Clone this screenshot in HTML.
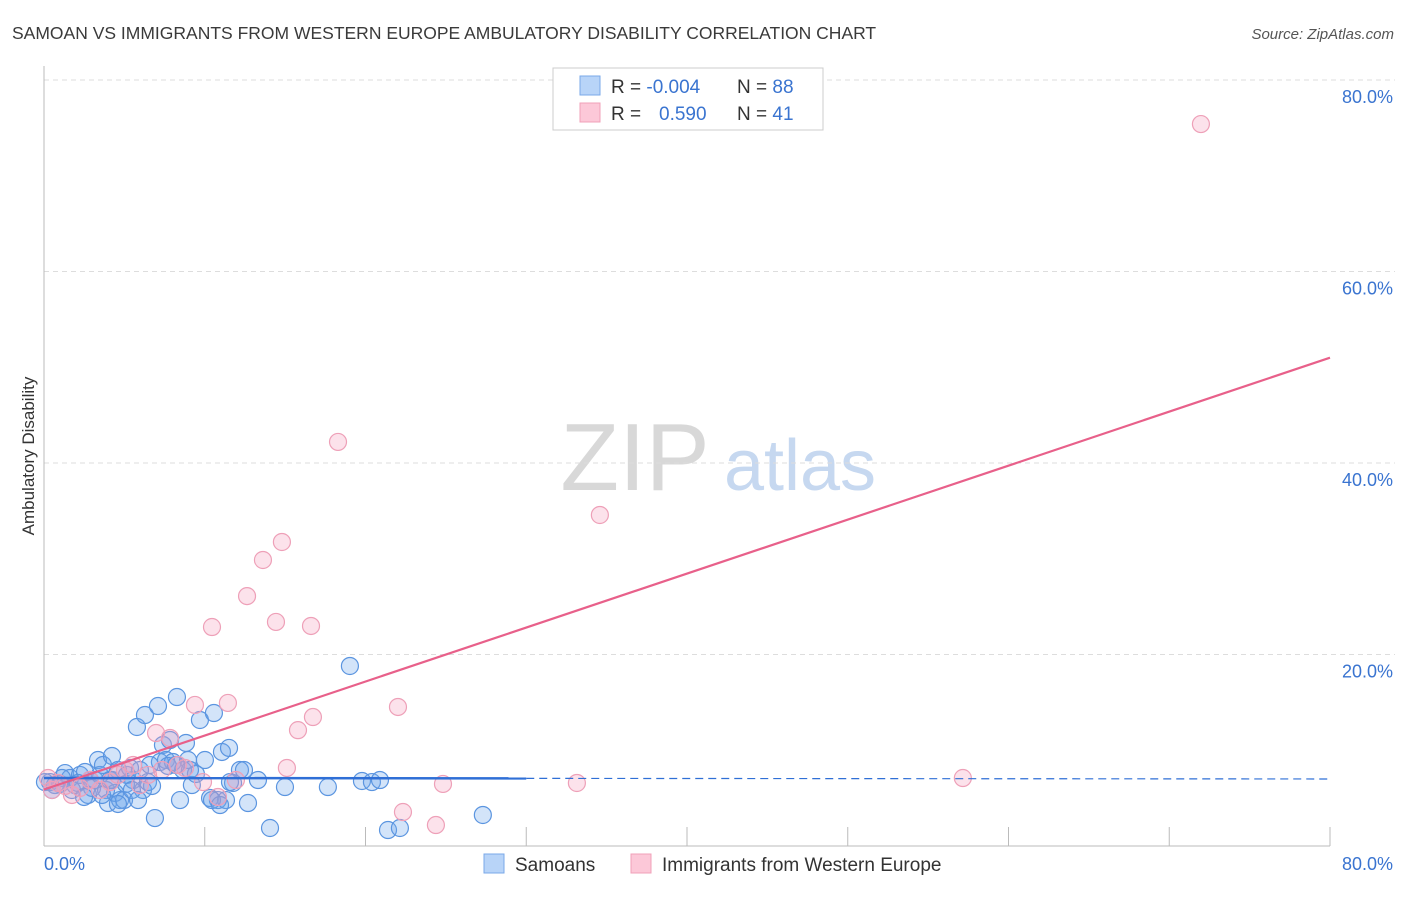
<!DOCTYPE html>
<html><head><meta charset="utf-8"><style>
body{margin:0;background:#fff;font-family:"Liberation Sans",sans-serif;}
svg text{font-family:"Liberation Sans",sans-serif;}
</style></head><body>
<svg id="chart" width="1406" height="892" xmlns="http://www.w3.org/2000/svg">
<text x="12" y="39" font-size="17.5" fill="#3a3a3a">SAMOAN VS IMMIGRANTS FROM WESTERN EUROPE AMBULATORY DISABILITY CORRELATION CHART</text>
<text x="1394" y="39" font-size="15" fill="#555" font-style="italic" text-anchor="end">Source: ZipAtlas.com</text>
<text transform="translate(34,456) rotate(-90)" font-size="17" fill="#333" text-anchor="middle">Ambulatory Disability</text>
<g>
<text x="635" y="490" font-size="96" fill="#d8d8d8" font-family="Liberation Serif" text-anchor="middle">ZIP</text>
<text x="800" y="490" font-size="72" fill="#c6d8f0" text-anchor="middle">atlas</text>
</g>
<g id="grid"></g><g id="axes"></g><g id="marks"></g><g id="lines"></g>
<g>
<rect x="553" y="68" width="270" height="62" fill="#fff" stroke="#ccc"/>
<rect x="580" y="76" width="20" height="19" fill="#b8d4f8" stroke="#7aa8e8"/>
<rect x="580" y="103" width="20" height="19" fill="#fcc8d8" stroke="#f0a0b8"/>
<text x="611" y="93" font-size="19" fill="#333">R = <tspan fill="#3a74d0">-0.004</tspan></text>
<text x="737" y="93" font-size="19" fill="#333">N = <tspan fill="#3a74d0">88</tspan></text>
<text x="611" y="120" font-size="19" fill="#333">R = </text>
<text x="659" y="120" font-size="19" fill="#3a74d0">0.590</text>
<text x="737" y="120" font-size="19" fill="#333">N = <tspan fill="#3a74d0">41</tspan></text>
</g>
<g>
<rect x="484" y="854" width="20" height="19" fill="#b8d4f8" stroke="#7aa8e8"/>
<text x="515" y="871" font-size="19" fill="#333">Samoans</text>
<rect x="631" y="854" width="20" height="19" fill="#fcc8d8" stroke="#f0a0b8"/>
<text x="662" y="871" font-size="19" fill="#333">Immigrants from Western Europe</text>
</g>
</svg>
<script>
const blueX=[0.37,0.68,1.0,1.31,1.62,1.93,2.24,2.55,2.74,2.99,3.17,3.36,3.48,3.67,3.86,3.98,4.1,4.23,4.42,4.6,4.73,4.98,5.16,5.35,5.54,5.78,5.97,6.16,6.28,6.47,6.72,6.9,7.09,7.21,7.4,7.59,7.84,8.02,8.27,8.46,8.65,8.83,8.96,9.2,9.45,9.7,10.01,10.33,10.57,10.82,11.07,11.32,11.51,11.76,12.19,12.69,13.31,14.06,14.99,17.66,19.03,19.78,20.4,21.4,22.14,27.3,0.06,0.5,1.12,1.74,2.11,2.49,2.86,3.61,4.23,4.6,5.1,5.47,5.85,6.59,7.71,8.21,9.08,10.45,11.57,12.44,10.95,20.9];
const blueY=[6.68,6.37,6.48,7.62,7.1,6.37,7.42,7.73,5.33,6.06,6.89,8.98,7.42,8.46,5.85,4.49,6.89,9.4,5.54,7.94,4.8,4.8,7.42,8.15,6.89,12.43,7.94,5.85,13.68,6.68,6.27,2.92,14.62,8.77,10.55,8.98,11.07,8.77,15.56,4.8,7.94,10.76,8.98,6.37,7.52,13.16,8.98,5.01,13.89,4.8,9.82,4.8,10.24,6.58,7.94,4.49,6.89,1.88,6.16,6.16,18.8,6.79,6.68,1.67,1.88,3.24,6.68,5.85,7.1,5.85,6.58,5.12,6.89,5.33,6.89,4.39,6.48,5.85,4.8,8.46,8.36,8.46,7.94,4.8,6.68,7.94,4.28,6.89];
const pinkX=[0.25,0.5,0.87,1.31,1.74,2.24,2.86,3.48,4.1,4.6,5.04,5.54,5.97,6.47,6.97,7.34,7.84,8.33,8.77,9.39,9.89,10.45,10.82,11.44,11.94,12.63,13.62,14.43,14.8,15.11,15.8,16.61,16.73,18.29,22.02,22.33,24.38,24.82,33.15,34.58,57.16,71.97];
const pinkY=[7.1,5.85,6.58,6.27,5.33,6.06,6.89,5.85,6.68,7.42,7.94,8.46,6.37,7.42,11.8,7.94,11.28,8.46,8.15,14.73,6.68,22.87,5.12,14.94,6.89,26.1,29.87,23.4,31.75,8.15,12.1,22.98,13.47,42.2,14.52,3.55,2.19,6.48,6.58,34.57,7.1,75.4];
const blueTrend=[7.1,7.0];   // y at x=0, y at x=80
const blueSolidEnd=30;
const pinkTrend=[5.9,51.0];
const yTicks=[20,40,60,80];
const yTickLabels=["20.0%","40.0%","60.0%","80.0%"];
const xTicks=[0,10,20,30,40,50,60,70,80];

const X0=44,X1=1330,Y0=846,YTOP=80;
const sx=v=>X0+(v/80)*(X1-X0);
const sy=v=>Y0-(v/80)*(Y0-YTOP);
const NS="http://www.w3.org/2000/svg";
function mk(tag,parent,attrs){const e=document.createElementNS(NS,tag);for(const k in attrs)e.setAttribute(k,attrs[k]);document.getElementById(parent).appendChild(e);return e;}

yTicks.forEach((t,i)=>{
  const g=mk('line','grid',{x1:X0,x2:1395,y1:sy(t),y2:sy(t),stroke:'#ddd','stroke-dasharray':'5,4'});
  
  
  const l=mk('text','axes',{x:1393,y:sy(t)+23,'font-size':18,fill:'#3a74d0','text-anchor':'end'});
  l.textContent=yTickLabels[i];
  
  
});
const ax=mk('line','axes',{x1:X0,x2:X0,y1:66,y2:Y0,stroke:'#bbb'});


const bx=mk('line','axes',{x1:X0,x2:X1,y1:Y0,y2:Y0,stroke:'#bbb'});


xTicks.forEach(t=>{
  const tk=mk('line','axes',{x1:sx(t),x2:sx(t),y1:Y0-19,y2:Y0,stroke:'#bbb'});
  
  
});
const xl0=mk('text','axes',{x:44,y:870,'font-size':18,fill:'#3a74d0'});xl0.textContent='0.0%';


const xl1=mk('text','axes',{x:1393,y:870,'font-size':18,fill:'#3a74d0','text-anchor':'end'});xl1.textContent='80.0%';



blueX.forEach((v,i)=>{
  const c=mk('circle','marks',{cx:sx(v),cy:sy(blueY[i]),r:8.5,fill:'rgba(110,165,235,0.3)',stroke:'#5b95e0','stroke-width':1.2});
  
  
});
pinkX.forEach((v,i)=>{
  const c=mk('circle','marks',{cx:sx(v),cy:sy(pinkY[i]),r:8.5,fill:'rgba(245,160,190,0.3)',stroke:'#eea0b8','stroke-width':1.2});
  
  
});
const bAt=x=>blueTrend[0]+(blueTrend[1]-blueTrend[0])*x/80;
const bl=mk('line','lines',{x1:sx(0),y1:sy(bAt(0)),x2:sx(blueSolidEnd),y2:sy(bAt(blueSolidEnd)),stroke:'#2f6fd6','stroke-width':2.5});


const bd=mk('line','lines',{x1:sx(blueSolidEnd),y1:sy(bAt(blueSolidEnd)),x2:sx(80),y2:sy(bAt(80)),stroke:'#2f6fd6','stroke-width':1.2,'stroke-dasharray':'8,5'});


const pl=mk('line','lines',{x1:sx(0),y1:sy(pinkTrend[0]),x2:sx(80),y2:sy(pinkTrend[1]),stroke:'#e8608a','stroke-width':2.2});


</script>
</body></html>
